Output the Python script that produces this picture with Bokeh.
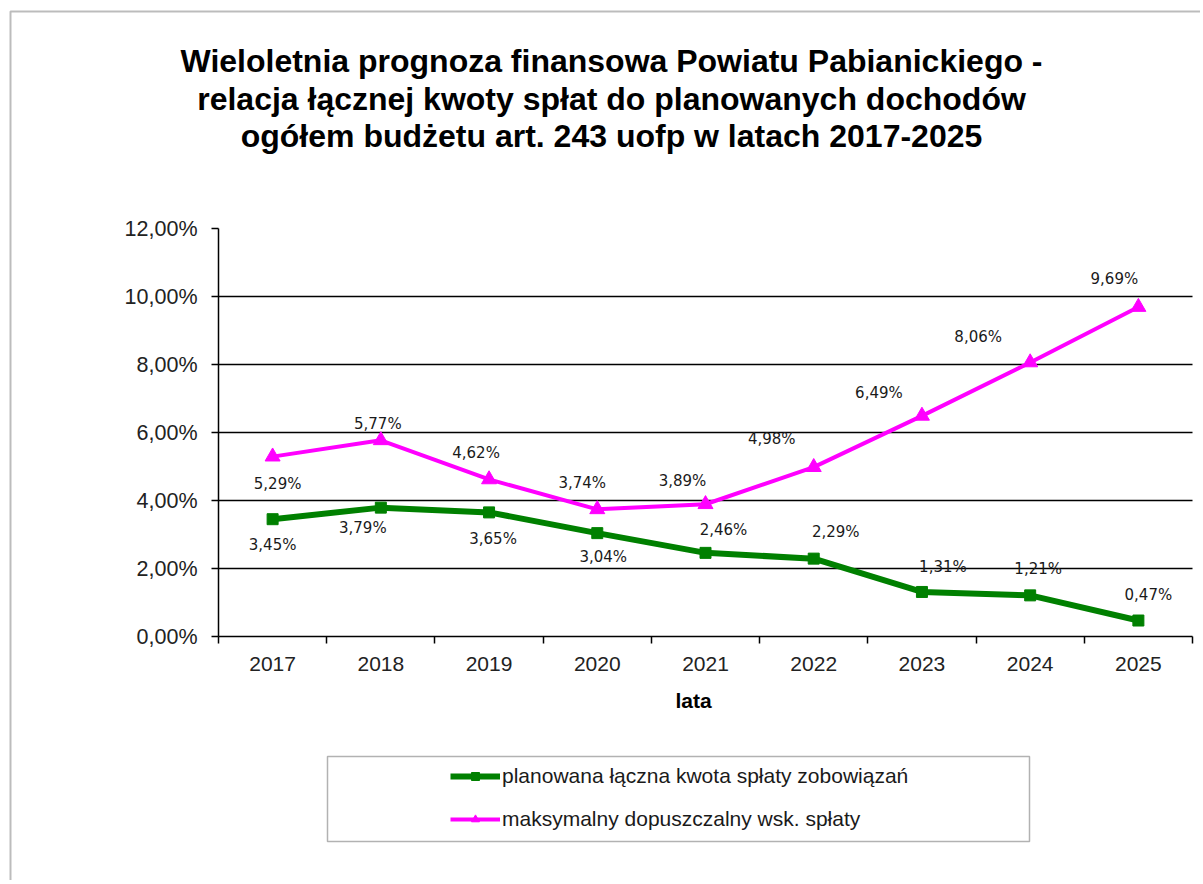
from bokeh.plotting import figure
from bokeh.models import (FixedTicker, Legend, LegendItem, Label, BoxAnnotation,
                          ColumnDataSource, LinearAxis, Grid)
from bokeh.core.properties import value
from bokeh.embed import file_html
from bokeh.resources import INLINE

# ---------------- data ----------------
years = [2017, 2018, 2019, 2020, 2021, 2022, 2023, 2024, 2025]
year_labels = ["2017", "2018", "2019", "2020", "2021", "2022", "2023", "2024", "2025"]
repayment = [3.45, 3.79, 3.65, 3.04, 2.46, 2.29, 1.31, 1.21, 0.47]
max_ratio = [5.29, 5.77, 4.62, 3.74, 3.89, 4.98, 6.49, 8.06, 9.69]
y_ticks = [0, 2, 4, 6, 8, 10, 12]
y_tick_labels = ["0,00%", "2,00%", "4,00%", "6,00%", "8,00%", "10,00%", "12,00%"]
series_names = ["planowana łączna kwota spłaty zobowiązań",
                "maksymalny dopuszczalny wsk. spłaty"]
title_lines = ["Wieloletnia prognoza finansowa Powiatu Pabianickiego -",
               "relacja łącznej kwoty spłat do planowanych dochodów",
               "ogółem budżetu art. 243 uofp w latach 2017-2025"]
x_axis_title = "lata"

# ---------------- layout (label offsets in px) ----------------
rep_dx = [0, -18, 4, 6, 18, 22, 21, 8, 10]
rep_dy = [26, 20, 27, 24, -23, -27, -25, -26, -26]
max_dx = [5, -3, -13, -15, -23, -42, -43, -52, -24]
max_dy = [27, -16, -26, -26, -23, -28, -23, -25, -28]

GREEN = "#008000"
MAGENTA = "#FF00FF"

W, H = 1200, 880
# plot area in canvas px
FL, FR, FT, FB = 218, 1192, 228, 636
XA, XB = years[0] - 0.5, years[-1] + 0.5
YA, YB = y_ticks[0], y_ticks[-1]
SX = (FR - FL) / (XB - XA)
SY = (FB - FT) / (YB - YA)


def px2x(px):
    return XA + (px - FL) / SX


def py2y(py):
    return YA + (FB - py) / SY


def pct(v):
    return f"{v:.2f}%".replace(".", ",")


p = figure(width=W, height=H, x_range=(px2x(0), px2x(W)), y_range=(py2y(H), py2y(0)),
           x_axis_location=None, y_axis_location=None,
           output_backend="svg", toolbar_location=None,
           min_border_left=0, min_border_right=0, min_border_top=0, min_border_bottom=0)
p.outline_line_color = None
p.background_fill_color = "white"
p.border_fill_color = "white"
p.grid.visible = False

label_font = "Liberation Sans"

# x axis
xaxis = LinearAxis(fixed_location=YA, bounds=(XA, XB),
                   ticker=FixedTicker(ticks=years,
                                      minor_ticks=[y - 0.5 for y in years] + [XB]))
xaxis.major_label_overrides = {y: l for y, l in zip(years, year_labels)}
xaxis.major_tick_out = 0
xaxis.major_tick_in = 0
xaxis.minor_tick_out = 7
xaxis.minor_tick_in = 0
xaxis.minor_tick_line_color = "black"
xaxis.minor_tick_line_width = 1.5
xaxis.axis_line_color = "black"
xaxis.axis_line_width = 1.5
xaxis.major_label_text_font = label_font
xaxis.major_label_text_font_size = "21px"
xaxis.major_label_text_color = "#222222"
xaxis.major_label_standoff = 13
p.add_layout(xaxis, "below")

# x axis title
p.add_layout(Label(x=px2x(693), y=py2y(700), text=x_axis_title, text_align="center",
                   text_baseline="middle", text_font=label_font,
                   text_font_style="bold", text_font_size="21px", text_color="black"))

# y axis
yaxis = LinearAxis(fixed_location=XA, bounds=(YA, YB),
                   ticker=FixedTicker(ticks=y_ticks, minor_ticks=[]))
yaxis.major_label_overrides = {t: l for t, l in zip(y_ticks, y_tick_labels)}
yaxis.major_tick_out = 7
yaxis.major_tick_in = 0
yaxis.major_tick_line_color = "black"
yaxis.major_tick_line_width = 1.5
yaxis.minor_tick_out = 0
yaxis.minor_tick_in = 0
yaxis.axis_line_color = "black"
yaxis.axis_line_width = 1.5
yaxis.major_label_text_font = label_font
yaxis.major_label_text_font_size = "21.5px"
yaxis.major_label_text_color = "#222222"
yaxis.major_label_standoff = 14
p.add_layout(yaxis, "left")

# horizontal gridlines
p.add_layout(Grid(dimension=1, ticker=FixedTicker(ticks=y_ticks[1:-1]),
                  bounds=(YA, YB), cross_bounds=(XA, XB),
                  grid_line_color="black", grid_line_width=1.3))

# series
m_line = p.line(years, max_ratio, line_color=MAGENTA, line_width=4)
m_mark = p.scatter(years, max_ratio, marker="triangle", size=15,
                   fill_color=MAGENTA, line_color=MAGENTA)
g_line = p.line(years, repayment, line_color=GREEN, line_width=6)
g_mark = p.scatter(years, repayment, marker="square", size=11,
                   fill_color=GREEN, line_color=GREEN)

# data labels
for vals, dx, dy in ((repayment, rep_dx, rep_dy), (max_ratio, max_dx, max_dy)):
    src = ColumnDataSource(dict(x=years, y=vals, t=[pct(v) for v in vals],
                                dx=dx, dy=dy))
    p.text(x="x", y="y", text="t", x_offset="dx", y_offset="dy", source=src,
           text_font=value("DejaVu Sans"), text_font_size="15px",
           text_align="center", text_baseline="middle", text_color="#1a1a1a")

# title
for line, base in zip(title_lines, [60, 98, 135]):
    p.add_layout(Label(x=px2x(611), y=py2y(base), text=line, text_align="center",
                       text_baseline="alphabetic", text_font=label_font,
                       text_font_style="bold", text_font_size="32px",
                       text_color="black"))

# legend box + legend
p.add_layout(BoxAnnotation(left=px2x(327), right=px2x(1029), top=py2y(756),
                           bottom=py2y(841), fill_alpha=0, line_color="black",
                           line_width=1.5))
legend = Legend(items=[LegendItem(label=series_names[0], renderers=[g_line, g_mark]),
                       LegendItem(label=series_names[1], renderers=[m_line, m_mark])],
                location=(450, H - 830.5), orientation="vertical", padding=0, margin=0,
                spacing=19, glyph_width=50, glyph_height=20, label_height=21,
                label_standoff=2, label_text_font=label_font,
                label_text_font_size="21px", label_text_color="#1a1a1a",
                border_line_alpha=0, background_fill_alpha=0)
p.add_layout(legend)

# chart-area border
p.add_layout(BoxAnnotation(left=px2x(10), top=py2y(11), right=px2x(W + 40),
                           bottom=py2y(H + 40), fill_alpha=0, line_color="#222222",
                           line_width=2))

open("out.html", "w").write(file_html(p, INLINE))
